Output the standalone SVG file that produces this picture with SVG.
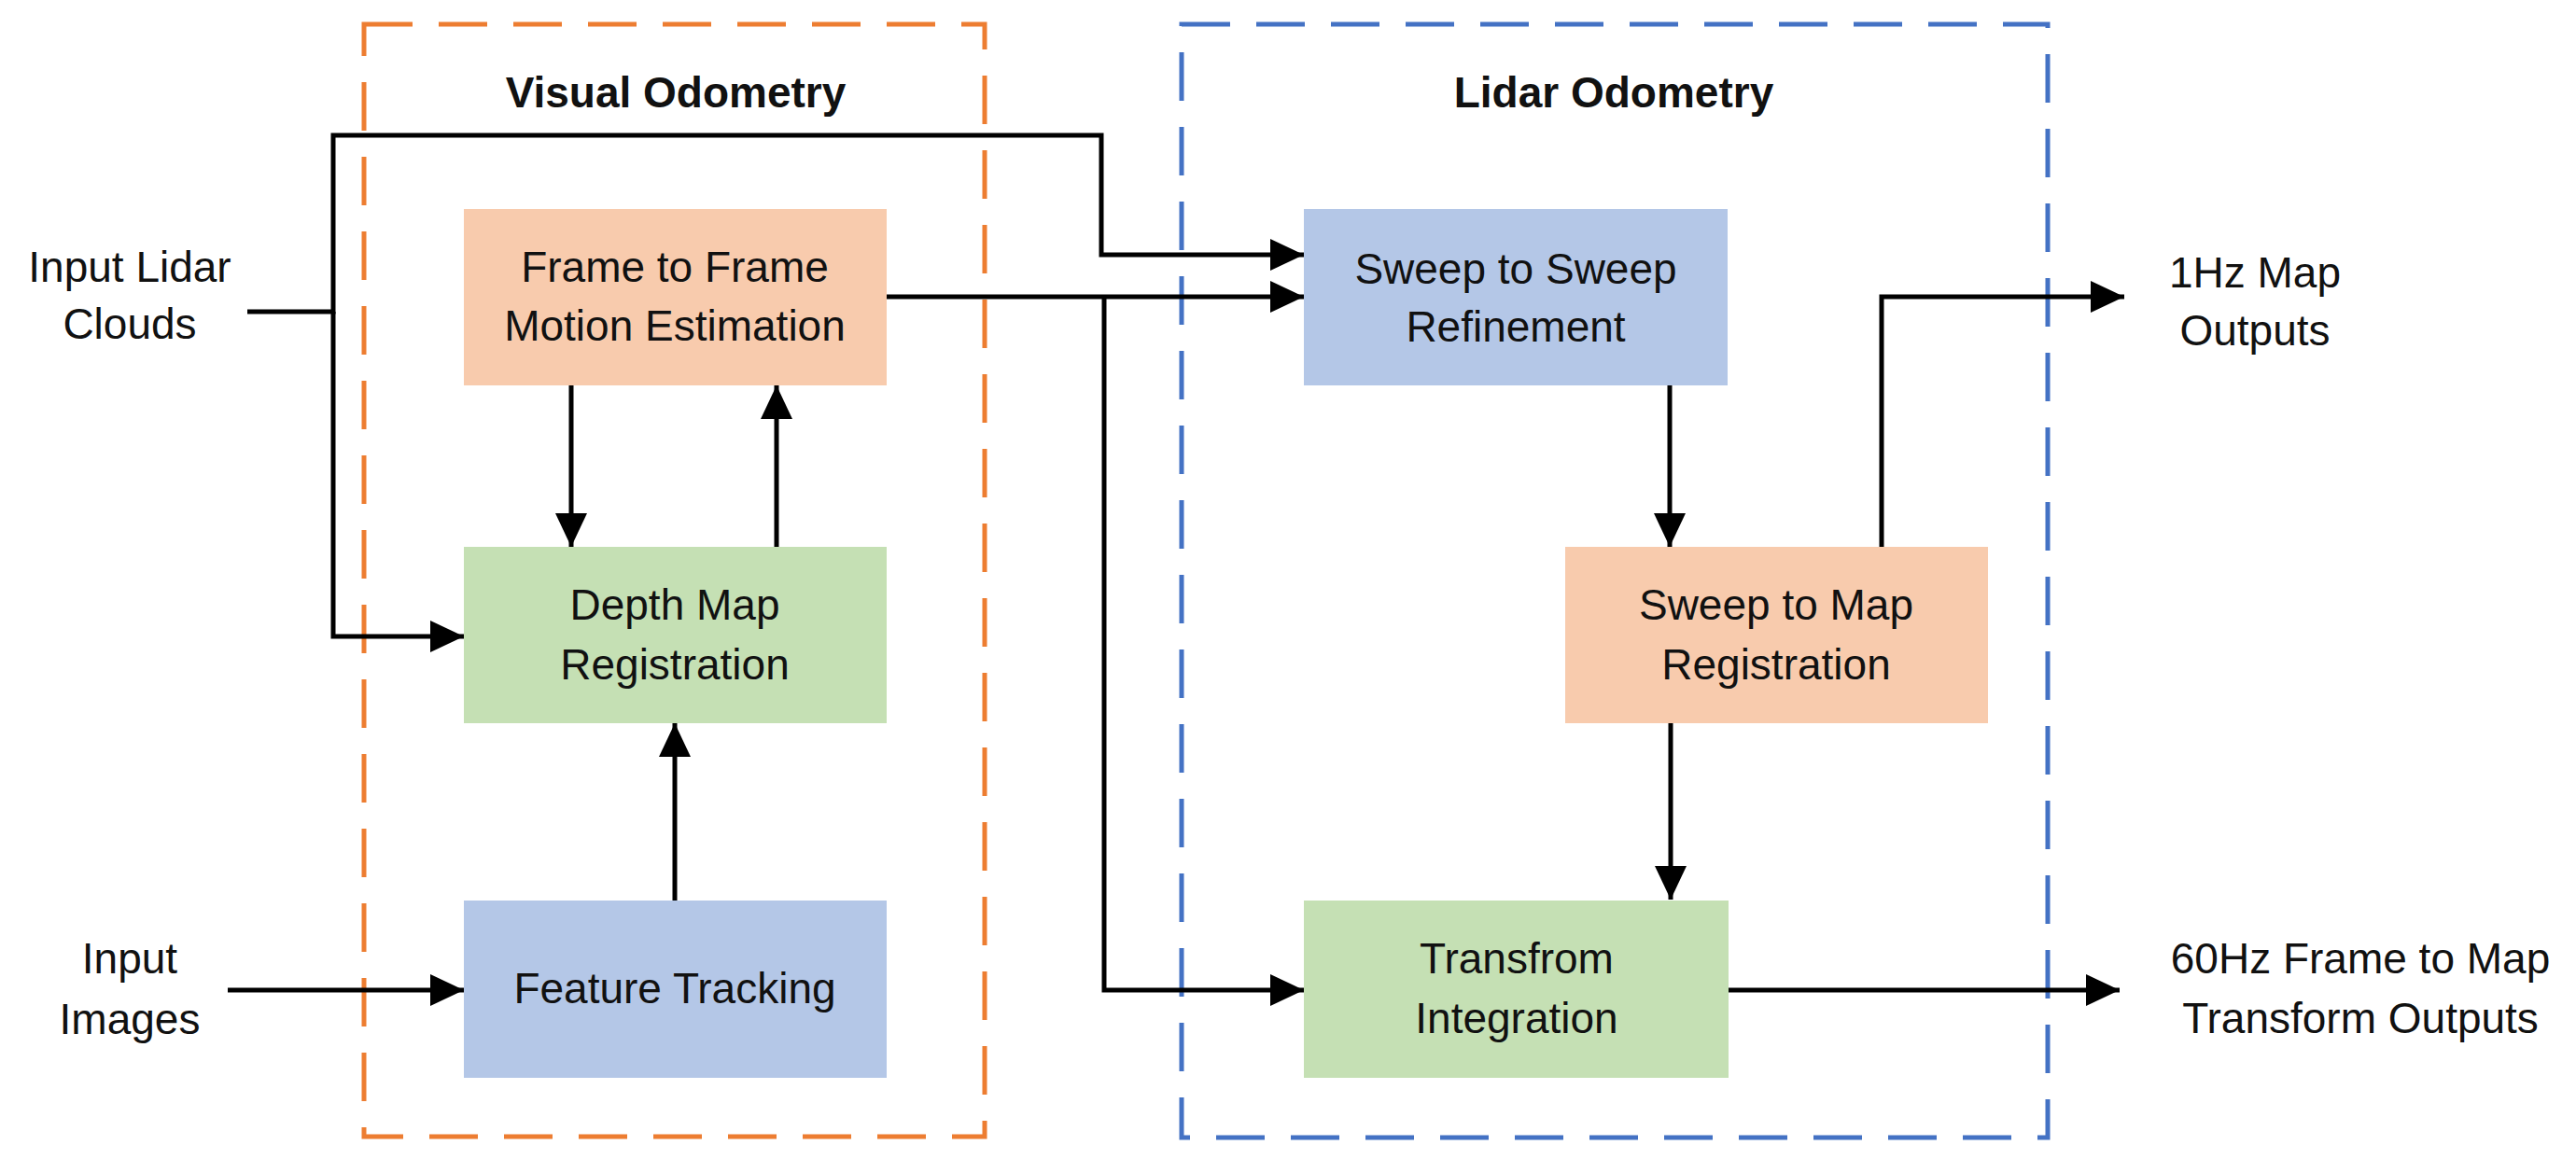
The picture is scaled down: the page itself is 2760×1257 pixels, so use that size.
<svg xmlns="http://www.w3.org/2000/svg" width="2760" height="1257" viewBox="0 0 2760 1257">
<defs>
<marker id="arr" markerUnits="userSpaceOnUse" markerWidth="36" markerHeight="34" refX="36" refY="17" orient="auto">
<path d="M0,0 L36,17 L0,34 Z" fill="#000"/>
</marker>
<style>
.grp{fill:none;stroke-width:5;stroke-dasharray:52 28}
.node rect{stroke:none}
.t{font-family:"Liberation Sans",Arial,sans-serif;font-size:46px;fill:#111;text-anchor:middle}
.h{font-family:"Liberation Sans",Arial,sans-serif;font-size:46px;font-weight:bold;fill:#111;text-anchor:middle}
.c{fill:none;stroke:#000;stroke-width:5;marker-end:url(#arr)}
.cn{fill:none;stroke:#000;stroke-width:5}
</style>
</defs>
<rect width="2760" height="1257" fill="#fff"/>
<g id="groups">
<rect class="grp" x="390" y="26" width="665" height="1192" stroke="#ED7D31"/>
<rect class="grp" x="1266" y="26" width="928" height="1193" stroke="#4472C4"/>
<text class="h" x="724" y="115">Visual Odometry</text>
<text class="h" x="1729" y="115">Lidar Odometry</text>
</g>
<g id="frame2frame" class="node">
<rect x="497" y="224" width="453" height="189" fill="#F8CBAD"/>
<text class="t" x="723" y="302">Frame to Frame</text>
<text class="t" x="723" y="365">Motion Estimation</text>
</g>
<g id="depthmap" class="node">
<rect x="497" y="586" width="453" height="189" fill="#C5E0B4"/>
<text class="t" x="723" y="664">Depth Map</text>
<text class="t" x="723" y="728">Registration</text>
</g>
<g id="feature" class="node">
<rect x="497" y="965" width="453" height="190" fill="#B4C7E7"/>
<text class="t" x="723" y="1075">Feature Tracking</text>
</g>
<g id="sweep2sweep" class="node">
<rect x="1397" y="224" width="454" height="189" fill="#B4C7E7"/>
<text class="t" x="1624" y="304">Sweep to Sweep</text>
<text class="t" x="1624" y="366">Refinement</text>
</g>
<g id="sweep2map" class="node">
<rect x="1677" y="586" width="453" height="189" fill="#F8CBAD"/>
<text class="t" x="1903" y="664">Sweep to Map</text>
<text class="t" x="1903" y="728">Registration</text>
</g>
<g id="transform" class="node">
<rect x="1397" y="965" width="455" height="190" fill="#C5E0B4"/>
<text class="t" x="1625" y="1043">Transfrom</text>
<text class="t" x="1625" y="1107">Integration</text>
</g>
<g id="inputLidar">
<text class="t" x="139" y="302">Input Lidar</text>
<text class="t" x="139" y="363">Clouds</text>
</g>
<g id="inputImages">
<text class="t" x="139" y="1043">Input</text>
<text class="t" x="139" y="1108">Images</text>
</g>
<g id="out1hz">
<text class="t" x="2416" y="308">1Hz Map</text>
<text class="t" x="2416" y="370">Outputs</text>
</g>
<g id="out60hz">
<text class="t" x="2529" y="1043">60Hz Frame to Map</text>
<text class="t" x="2529" y="1107">Transform Outputs</text>
</g>
<g id="connectors">
<path class="c" d="M265,334 H357 V145 H1180 V273 H1397"/>
<path class="c" d="M357,334 V682 H497"/>
<path class="c" d="M950,318 H1397"/>
<path class="c" d="M1183,318 V1061 H1397"/>
<path class="c" d="M612,413 V586"/>
<path class="c" d="M832,586 V413"/>
<path class="c" d="M723,965 V775"/>
<path class="c" d="M244,1061 H497"/>
<path class="c" d="M1789,413 V586"/>
<path class="c" d="M2016,586 V318 H2276"/>
<path class="c" d="M1790,775 V964"/>
<path class="c" d="M1852,1061 H2271"/>
</g>
</svg>
